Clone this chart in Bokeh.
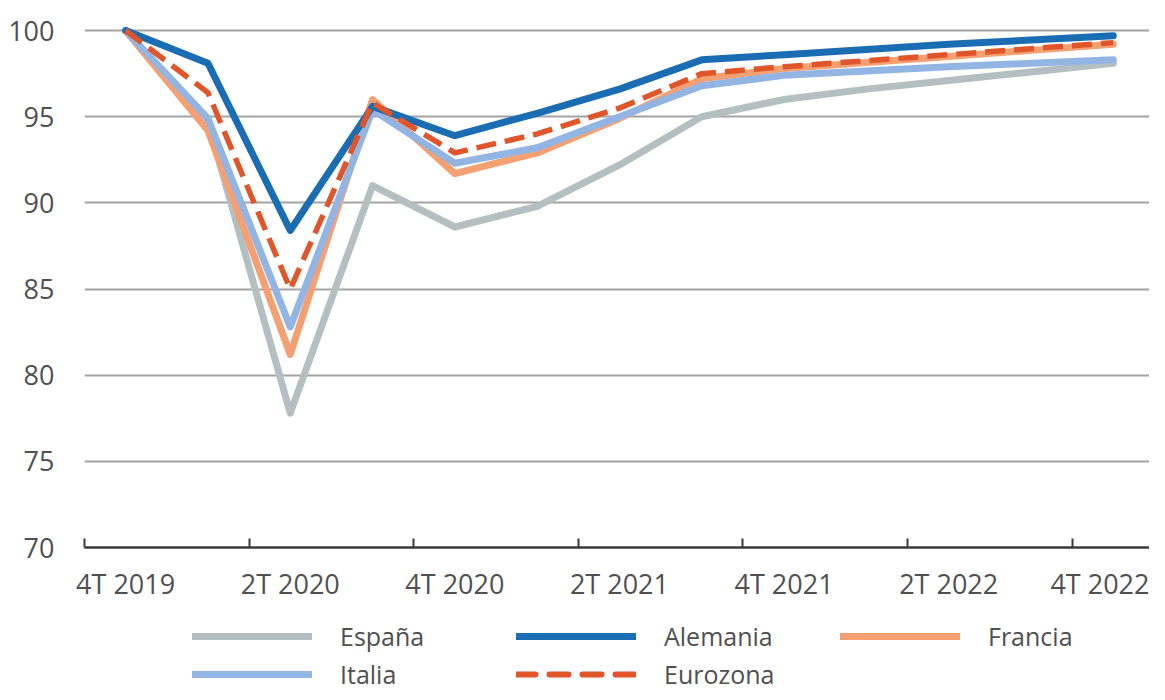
from bokeh.plotting import figure
from bokeh.models import FixedTicker, Legend, LegendItem, Range1d
from bokeh.layouts import column
from bokeh.embed import file_html
from bokeh.resources import INLINE

# ---------------- data ----------------
quarters = ["4T 2019", "1T 2020", "2T 2020", "3T 2020", "4T 2020",
            "1T 2021", "2T 2021", "3T 2021", "4T 2021",
            "1T 2022", "2T 2022", "3T 2022", "4T 2022"]
y_ticks = [70, 75, 80, 85, 90, 95, 100]

espana   = [100, 94.7, 77.8, 91.0, 88.6, 89.8, 92.2, 95.0, 96.0, 96.6, 97.1, 97.6, 98.1]
alemania = [100, 98.1, 88.4, 95.6, 93.9, 95.2, 96.6, 98.3, 98.6, 98.9, 99.2, 99.45, 99.7]
francia  = [100, 94.2, 81.2, 96.0, 91.7, 92.9, 94.9, 97.2, 97.8, 98.15, 98.5, 98.85, 99.2]
italia   = [100, 94.9, 82.8, 95.4, 92.3, 93.2, 95.0, 96.8, 97.4, 97.65, 97.9, 98.1, 98.3]
eurozona = [100, 96.4, 85.0, 95.8, 92.9, 94.0, 95.5, 97.5, 97.9, 98.25, 98.6, 98.95, 99.3]

names = ["España", "Alemania", "Francia", "Italia", "Eurozona"]
colors = {"España": "#b4bfc1", "Alemania": "#1a6db3", "Francia": "#f4a072",
          "Italia": "#93b5e4", "Eurozona": "#e0562a"}

x = list(range(len(quarters)))
label_idx = x[::2]
boundaries = [i - 0.5 for i in label_idx]

FONT = "Open Sans"
TXT = "#505050"
LEFT = 84

p = figure(width=1149, height=608,
           x_range=Range1d(-0.5, 12.44), y_range=Range1d(70, 100.7),
           output_backend="svg", toolbar_location=None,
           min_border_left=LEFT, min_border_right=0,
           min_border_top=18, min_border_bottom=61)
p.outline_line_color = None
p.background_fill_color = "white"
p.border_fill_color = "white"

# grid
p.xgrid.visible = False
p.ygrid.ticker = FixedTicker(ticks=y_ticks[1:])
p.ygrid.grid_line_color = "#a3a3a3"
p.ygrid.grid_line_width = 2

# y axis
p.yaxis.ticker = FixedTicker(ticks=y_ticks)
p.yaxis.axis_line_color = None
p.yaxis.major_tick_line_color = None
p.yaxis.minor_tick_line_color = None
p.yaxis.major_label_standoff = 24
p.yaxis.major_label_text_font = FONT
p.yaxis.major_label_text_font_size = "27px"
p.yaxis.major_label_text_color = TXT

# x axis
p.xaxis.ticker = FixedTicker(ticks=label_idx, minor_ticks=boundaries)
p.xaxis.major_label_overrides = {i: quarters[i] for i in label_idx}
p.xaxis.axis_line_color = "#3a3a3a"
p.xaxis.axis_line_width = 2.5
p.xaxis.major_tick_line_color = None
p.xaxis.minor_tick_line_color = "#3a3a3a"
p.xaxis.minor_tick_line_width = 2
p.xaxis.minor_tick_in = 9
p.xaxis.minor_tick_out = 0
p.xaxis.major_label_standoff = 11
p.xaxis.major_label_text_font = FONT
p.xaxis.major_label_text_font_size = "27px"
p.xaxis.major_label_text_color = TXT

# lines (drawing order)
series = {"España": espana, "Alemania": alemania, "Francia": francia,
          "Italia": italia, "Eurozona": eurozona}
for nm in ["España", "Francia", "Italia", "Alemania"]:
    p.line(x, series[nm], line_color=colors[nm], line_width=7,
           line_cap="round", line_join="round")
p.line(x, eurozona, line_color=colors["Eurozona"], line_width=5.5,
       line_dash="20 9", line_join="round")

# ---------------- legend strip ----------------
leg = figure(width=1149, height=84, x_range=Range1d(0, 1), y_range=Range1d(0, 1),
             output_backend="svg", toolbar_location=None,
             x_axis_type=None, y_axis_type=None, min_border=0)
leg.outline_line_color = None
leg.grid.visible = False
leg.border_fill_color = "white"

nan = float("nan")
items = []
for nm in names:
    if nm == "Eurozona":
        r = leg.line([nan], [nan], line_color=colors[nm], line_width=6,
                     line_dash="19 14", line_cap="round")
    else:
        r = leg.line([nan], [nan], line_color=colors[nm], line_width=7, line_cap="round")
    items.append(LegendItem(label=nm, renderers=[r]))

legend = Legend(items=items, orientation="horizontal", ncols=3,
                location=(108, 1),
                glyph_width=120, glyph_height=30, label_height=30,
                label_width=172, label_standoff=28, spacing=4,
                padding=0, margin=0,
                label_text_font=FONT, label_text_font_size="25px",
                label_text_color=TXT,
                border_line_color=None, background_fill_alpha=0)
leg.add_layout(legend, "center")

layout = column(p, leg, spacing=0)
open("out.html", "w").write(file_html(layout, INLINE))
